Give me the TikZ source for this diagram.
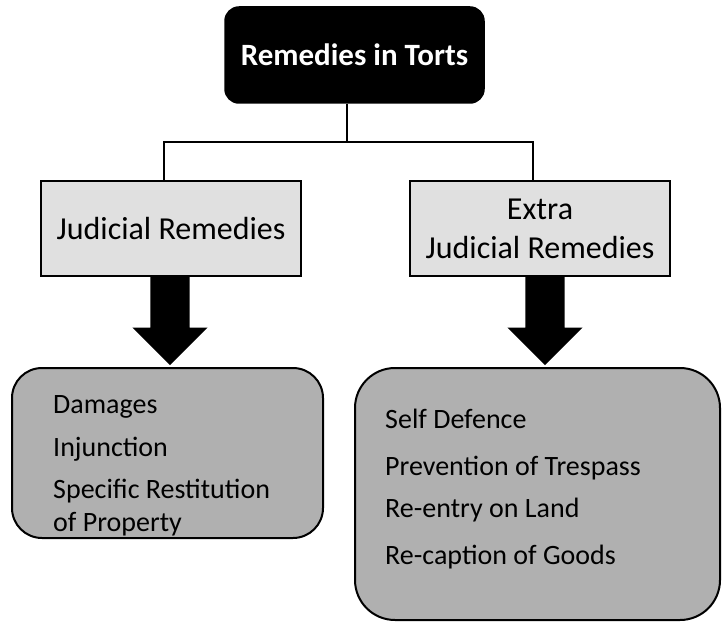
\documentclass[tikz,border=0pt]{standalone}
\usepackage{fontspec}
\setmainfont{Carlito}
\usetikzlibrary{shapes.arrows}

\definecolor{lightbox}{RGB}{224,224,224}
\definecolor{darkbox}{RGB}{176,176,176}

\tikzset{
  headbox/.style={draw=black, fill=black, rounded corners=14pt, text=white,
    font=\fontsize{31}{37}\selectfont\bfseries, minimum width=259pt, minimum height=96pt, line width=1.5pt},
  kindbox/.style={draw=black, fill=lightbox, line width=2pt, minimum width=260pt,
    minimum height=95pt, align=center, font=\fontsize{32}{39}\selectfont},
  listbox/.style={draw=black, fill=darkbox, line width=2pt},
  item/.style={anchor=base west, font=\fontsize{28}{33}\selectfont, align=left, inner sep=0pt},
  bigarrow/.style={single arrow, fill=black, draw=none, single arrow head extend=18pt,
    inner xsep=0pt, inner ysep=19.5pt, minimum height=88pt, rotate=-90, anchor=tail},
  link/.style={draw=black, line width=1.5pt}
}

\begin{document}
\begin{tikzpicture}[x=1pt, y=1pt]
  \useasboundingbox (0,0) rectangle (722,-623);

  % title and the two kinds
  \node [headbox] (top) at (354.5,-55) {Remedies in Torts};
  \node [kindbox] (jud) at (171,-228.5) {Judicial Remedies};
  \node [kindbox] (ext) at (540,-228.5) {Extra\\Judicial Remedies};

  \coordinate (hub) at (347,-142);
  \draw [link] (top.south -| hub) -- (hub);
  \draw [link] ([xshift=-7pt]jud.north) |- (hub) -| ([xshift=-7pt]ext.north);

  % lists
  \node [listbox, rounded corners=30pt, minimum width=311pt, minimum height=170pt] (jlist) at (167.5,-453) {};
  \node [listbox, rounded corners=40pt, minimum width=365pt, minimum height=252pt] (elist) at (537.5,-494) {};

  \node [bigarrow] (arrL) at ([xshift=-1pt]jud.south) {};
  \node [bigarrow] (arrR) at ([xshift=5pt]ext.south) {};

  \foreach \y/\t [count=\i] in {413/Damages, 456/Injunction, 531/{Specific Restitution\\of Property}} {
    \node [item] (j-\i) at (53,-\y) {\t};
  }
  \foreach \y/\t [count=\i] in {428/Self Defence, 475/Prevention of Trespass, 517/Re-entry on Land, 564/Re-caption of Goods} {
    \node [item] (e-\i) at (385,-\y) {\t};
  }
\end{tikzpicture}
\end{document}
